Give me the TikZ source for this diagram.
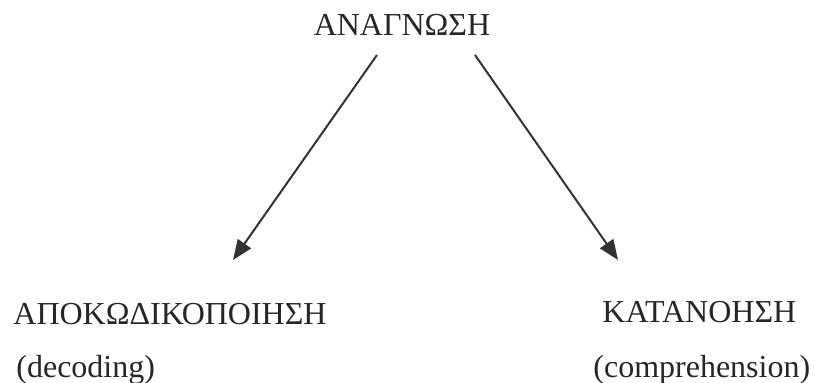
\documentclass[tikz,border=0pt]{standalone}
\usepackage{fontspec}
\setmainfont{Liberation Serif}
\usepackage{tikz}
\usetikzlibrary{arrows.meta}

\begin{document}
\begin{tikzpicture}[x=0.5pt,y=-0.5pt,>={Triangle[length=10pt,width=8pt]},
  every node/.style={inner sep=0pt,text=black!85,font=\fontsize{16}{19}\selectfont}]
    \useasboundingbox (0,0) rectangle (815,383);
    \node[anchor=base] (anagnosi) at (402,36){ΑΝΑΓΝΩΣΗ};
    \node[anchor=base west] (apokod) at (13,325){ΑΠΟΚΩΔΙΚΟΠΟΙΗΣΗ};
    \node[anchor=base west] (decoding) at (16,378){(decoding)};
    \node[anchor=base west] (katanoisi) at (602,323){ΚΑΤΑΝΟΗΣΗ};
    \node[anchor=base west] (compr) at (593,378){(comprehension)};
    % arrow ends
    \coordinate (lstart) at (377,55);
    \coordinate (lend) at (233,260);
    \coordinate (rstart) at (475,55);
    \coordinate (rend) at (618,260);
    \draw[->,line width=1pt,black!80] (lstart) -- (lend);
    \draw[->,line width=1pt,black!80] (rstart) -- (rend);
  \end{tikzpicture}
\end{document}
